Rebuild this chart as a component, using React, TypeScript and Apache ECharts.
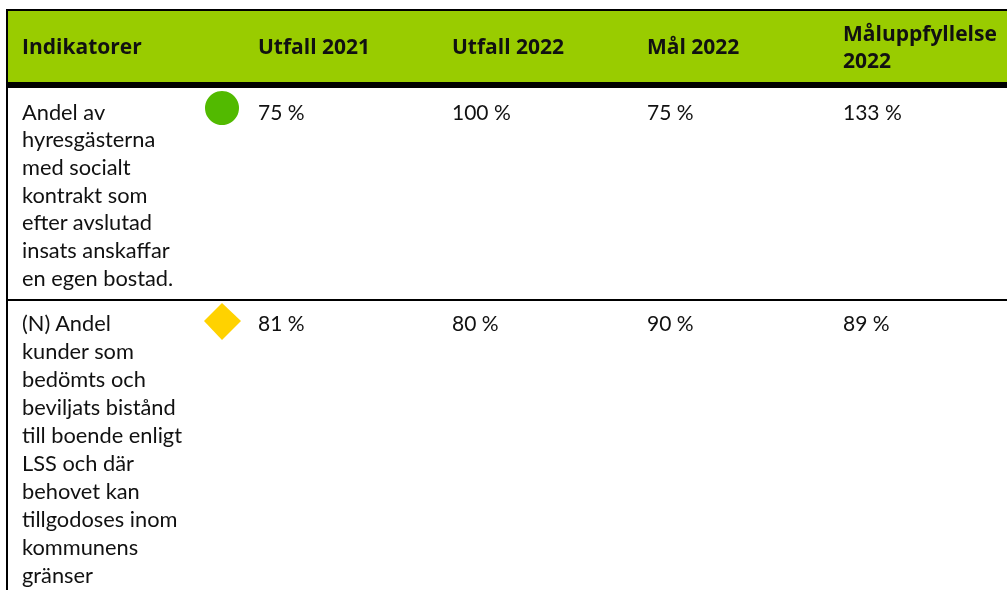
import React, { useEffect, useRef } from "react";
import * as echarts from "echarts";

const headers = ["Indikatorer", "Utfall 2021", "Utfall 2022", "Mål 2022"];
const lastHeader = ["Måluppfyllelse", "2022"];
const row1Label = ["Andel av", "hyresgästerna", "med socialt", "kontrakt som", "efter avslutad", "insats anskaffar", "en egen bostad."];
const row2Label = ["(N) Andel", "kunder som", "bedömts och", "beviljats bistånd", "till boende enligt", "LSS och där", "behovet kan", "tillgodoses inom", "kommunens", "gränser"];
const row1Values = ["75 %", "100 %", "75 %", "133 %"];
const row2Values = ["81 %", "80 %", "90 %", "89 %"];

const columnX = [258, 452, 647, 843];
const headerX = [22, 258, 452, 647];

function txt(x: number, y: number, text: string, font: string) {
  return {
    type: "text",
    x,
    y,
    silent: true,
    style: { text, fill: "#111111", font, verticalAlign: "middle", align: "left" },
  };
}
const HEAD = "bold 21px 'Open Sans'";
const LABEL = "21.8px Lato";
const VALUE = "21px Lato";

export default function App() {
  const ref = useRef<HTMLDivElement>(null);
  useEffect(() => {
    const chart = echarts.init(ref.current!, undefined, { renderer: "svg" });
    const elements: any[] = [
      { type: "rect", shape: { x: 8, y: 11, width: 999, height: 71 }, style: { fill: "#99CC00" } },
      { type: "rect", shape: { x: 6, y: 9, width: 1001, height: 2 }, style: { fill: "#000" } },
      { type: "rect", shape: { x: 6, y: 82, width: 1001, height: 6 }, style: { fill: "#000" } },
      { type: "rect", shape: { x: 6, y: 299, width: 1001, height: 2 }, style: { fill: "#000" } },
      { type: "rect", shape: { x: 6, y: 9, width: 2, height: 581 }, style: { fill: "#000" } },
      { type: "circle", shape: { cx: 222, cy: 108, r: 17 }, style: { fill: "#52BA00" } },
      { type: "polygon", shape: { points: [[222, 303], [241, 321], [222, 340], [204, 321]] }, style: { fill: "#FFD200" } },
    ];
    headers.forEach((h, i) => elements.push(txt(headerX[i], 46, h, HEAD)));
    lastHeader.forEach((h, i) => elements.push(txt(843, 33 + i * 27, h, HEAD)));
    row1Label.forEach((t, i) => elements.push(txt(22, 111 + i * 27.7, t, LABEL)));
    row2Label.forEach((t, i) => elements.push(txt(22, 322 + i * 28, t, LABEL)));
    row1Values.forEach((t, i) => elements.push(txt(columnX[i], 111, t, VALUE)));
    row2Values.forEach((t, i) => elements.push(txt(columnX[i], 322, t, VALUE)));
    chart.setOption({ animation: false, graphic: { elements } });
    return () => chart.dispose();
  }, []);
  return <div ref={ref} style={{ position: "fixed", left: 0, top: 0, width: 1007, height: 590 }} />;
}
